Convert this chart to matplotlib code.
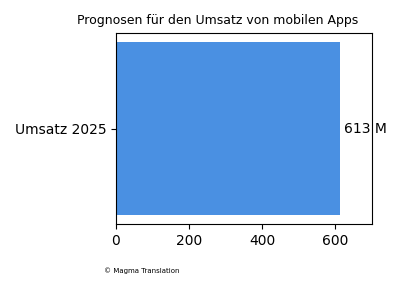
import matplotlib
matplotlib.use("Agg")
import matplotlib.pyplot as plt

categories = ["Umsatz 2025"]
values = [613]
labels = ["613 M"]

fig = plt.figure(figsize=(4, 3), dpi=100)
ax = fig.add_axes([0.29, 0.2533, 0.64, 0.6357])
bars = ax.barh(categories, values, color="#4a90e2")
ax.set_xlim(0, 700)
for b, lab in zip(bars, labels):
    ax.text(b.get_width() + 10, b.get_y() + b.get_height() / 2, lab,
            va="center", ha="left", fontsize=10)
fig.text(0.545, 0.932, "Prognosen für den Umsatz von mobilen Apps", fontsize=9,
         ha="center", va="center")
fig.text(0.26, 0.097, "© Magma Translation", fontsize=5, ha="left", va="center")
fig.savefig("out.png", dpi=100)
